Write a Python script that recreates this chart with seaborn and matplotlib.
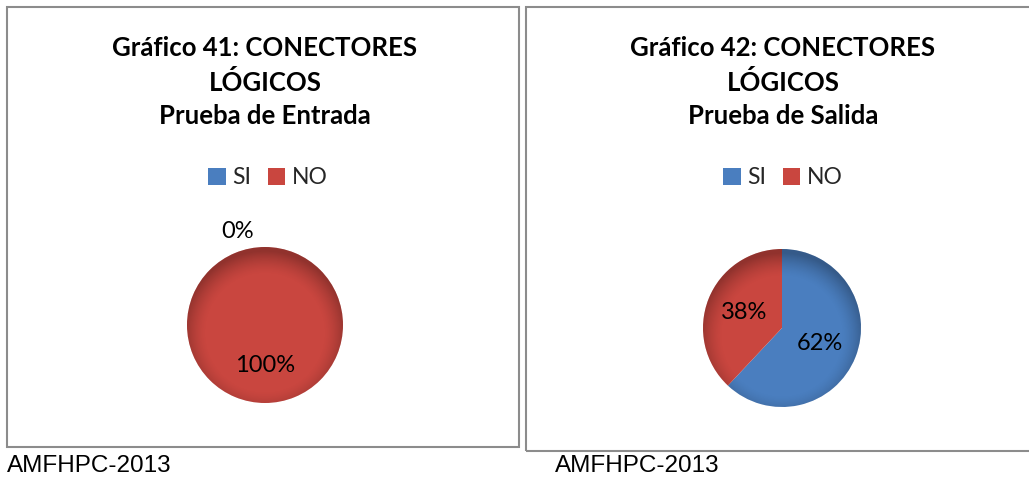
import matplotlib
matplotlib.use("Agg")
import matplotlib.pyplot as plt
from matplotlib.patches import Rectangle, Circle
import numpy as np
import seaborn as sns

sns.set_theme(style="white")
plt.rcParams["font.family"] = ["Lato", "DejaVu Sans"]

categories = ["SI", "NO"]
entrada_values = [0, 100]
salida_values = [62, 38]
titles = [
    "Gráfico 41: CONECTORES\nLÓGICOS\nPrueba de Entrada",
    "Gráfico 42: CONECTORES\nLÓGICOS\nPrueba de Salida",
]
source_label = "AMFHPC-2013"

palette = sns.color_palette(["#4a7ebf", "#c9463f"])

W, H = 1029, 479
fig = plt.figure(figsize=(W / 100, H / 100), dpi=100)


def px_axes(x0, y0, x1, y1):
    """Axes from pixel box measured from the top-left corner."""
    return fig.add_axes([x0 / W, 1 - y1 / H, (x1 - x0) / W, (y1 - y0) / H])


# panel frames
for (x0, y0, x1, y1) in [(7, 7, 519, 447), (526, 7, 1035, 451)]:
    fig.patches.append(Rectangle((x0 / W, 1 - y1 / H), (x1 - x0) / W, (y1 - y0) / H,
                                 transform=fig.transFigure, fill=False,
                                 edgecolor="#8c8c8c", linewidth=1.5))

panels = [
    dict(values=entrada_values, title=titles[0], tx=265, lx=268, center=(265, 325), r=78,
         src_x=7),
    dict(values=salida_values, title=titles[1], tx=783, lx=783, center=(782, 328), r=79,
         src_x=555),
]

# soft bevel shading: darker towards the rim
g = np.linspace(-1, 1, 300)
gx, gy = np.meshgrid(g, g)
rr = np.sqrt(gx ** 2 + (gy + 0.1) ** 2)
shade = np.zeros((300, 300, 4))
shade[..., 3] = np.clip((rr - 0.75) / 0.3, 0, 1) ** 1.5 * 0.28

for p in panels:
    cx, cy = p["center"]
    r = p["r"]
    ax = px_axes(cx - r, cy - r, cx + r, cy + r)
    wedges, texts, autotexts = ax.pie(
        p["values"], colors=palette, startangle=90, counterclock=False,
        autopct=lambda v: f"{v:.0f}%", pctdistance=0.52, radius=1,
        wedgeprops=dict(linewidth=0), textprops=dict(fontsize=17, color="black"),
    )
    ax.set_xlim(-1, 1)
    ax.set_ylim(-1, 1)
    ax.set_aspect("equal")
    ax.axis("off")
    im = ax.imshow(shade, extent=(-1, 1, -1, 1), origin="lower", zorder=2)
    im.set_clip_path(Circle((0, 0), 1, transform=ax.transData))
    for t in autotexts:
        t.set_zorder(3)
    # zero-valued slice label sits outside the pie
    for v, t in zip(p["values"], autotexts):
        if v == 0:
            t.set_position((-0.35, 1.2))

    fig.text(p["tx"] / W, 1 - 82 / H, p["title"], ha="center", va="center",
             fontsize=18.5, fontweight="bold", linespacing=1.45, color="black")

    handles = [Rectangle((0, 0), 1, 1, facecolor=c, edgecolor="none") for c in palette]
    fig.legend(handles, categories, loc="center", ncol=2,
               bbox_to_anchor=(p["lx"] / W, 1 - 178 / H), frameon=False,
               fontsize=16.5, handlelength=0.75, handleheight=0.75,
               handletextpad=0.3, columnspacing=0.7)

    fig.text(p["src_x"] / W, 1 - 466 / H, source_label, ha="left", va="center",
             fontsize=17.5, family="Liberation Sans", color="black")

fig.savefig("out.png", dpi=100, facecolor="white")
